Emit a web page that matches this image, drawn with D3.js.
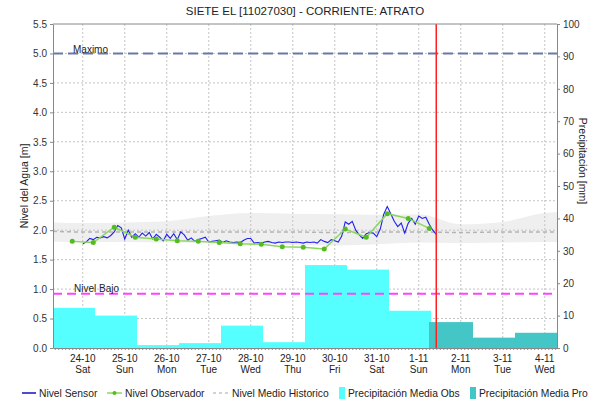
<!DOCTYPE html>
<html>
<head>
<meta charset="utf-8">
<script src="https://cdn.jsdelivr.net/npm/d3@7"></script>
<style>
  body { margin: 0; background: #fff; }
  svg { font-family: "Liberation Sans", Arial, sans-serif; }
  .axis path, .axis line { stroke: #888; }
  .axis text { fill: #333; font-size: 10px; }
</style>
</head>
<body>
<div class="chart-container"></div>
<script>
// ---- data ----
const dayLabels = ["24-10", "25-10", "26-10", "27-10", "28-10", "29-10", "30-10", "31-10", "1-11", "2-11", "3-11", "4-11"];
const weekDays = ["Sat", "Sun", "Mon", "Tue", "Wed", "Thu", "Fri", "Sat", "Sun", "Mon", "Tue", "Wed"];

// daily precipitation [mm], 07:00 -> 07:00
const precipObs = [12.4, 10.0, 0.9, 1.5, 6.9, 1.8, 25.6, 24.2, 11.5];
const precipPro = [8.0, 3.2, 4.7];

// observer readings [m], every 12h starting 23-10 18:00
const observador = [1.81, 1.79, 2.05, 1.88, 1.85, 1.82, 1.81, 1.79, 1.77, 1.76, 1.72, 1.71,
  1.68, 2.02, 1.88, 2.28, 2.20, 2.03];

// sensor readings [m], every 2h starting 24-10 00:00
const sensor = [
  1.77, 1.80, 1.86, 1.84, 1.88, 1.87, 1.89, 1.87, 1.91, 1.97, 2.08, 2.04, 1.85, 2.00, 1.88,
  1.94, 1.88, 1.95, 1.90, 1.96, 1.85, 1.93, 1.88, 1.82, 1.93, 1.86, 1.94, 1.84, 1.97, 1.92,
  1.83, 1.87, 1.81, 1.84, 1.86, 1.88, 1.80, 1.81, 1.82, 1.83, 1.79, 1.82, 1.80, 1.79, 1.80,
  1.79, 1.83, 1.86, 1.86, 1.78, 1.79, 1.78, 1.80, 1.81, 1.79, 1.78, 1.80, 1.79, 1.80, 1.80,
  1.79, 1.80, 1.79, 1.78, 1.80, 1.79, 1.80,
  1.78, 1.84, 1.81, 1.79, 1.84, 1.82, 1.80, 1.90, 2.14, 2.10, 2.15, 2.00, 1.92, 1.86, 1.94,
  1.96, 1.95, 1.89, 2.02, 2.27, 2.40, 2.28, 2.15, 2.06, 2.12, 1.95, 2.12, 2.20, 2.10, 2.24,
  2.20, 2.22, 2.10, 2.00, 1.93
];

// historical band [m]: 23-10 07:00, each midnight 24-10 .. 4-11, 4-11 07:00
const histUpper = [2.13, 2.12, 2.13, 2.15, 2.24, 2.29, 2.28, 2.27, 2.26, 2.27, 2.10, 2.14, 2.29, 2.31];
const histLower = [1.81, 1.80, 1.80, 1.79, 1.78, 1.77, 1.75, 1.74, 1.76, 1.79, 1.78, 1.79, 1.80, 1.80];
const histMean = [1.98, 1.97, 1.97, 1.97, 1.97, 1.97, 1.97, 1.96, 1.97, 1.97, 1.96, 1.97, 1.97, 1.97];

const nivelMaximo = 5.0;
const nivelBajo = 0.92;

// ---- time helpers ----
const HOUR = 3600 * 1000;
const t0 = Date.UTC(2015, 9, 23, 7);       // 23-10 07:00
const tEnd = Date.UTC(2015, 10, 4, 7);     // 4-11 07:00
const tNow = Date.UTC(2015, 10, 1, 10);    // red line
const midnight = (i) => new Date(Date.UTC(2015, 9, 24) + i * 24 * HOUR);

const histTimes = [new Date(t0)].concat(dayLabels.map((d, i) => midnight(i)), [new Date(tEnd)]);

// ---- chart ----
const margin = {top: 24, right: 33, bottom: 55, left: 53},
  W = 590, H = 403,
  width = W - margin.left - margin.right,
  height = H - margin.top - margin.bottom;

const svg = d3.select(".chart-container").append("svg")
    .attr("width", W)
    .attr("height", H)
  .append("g")
    .attr("transform", "translate(" + margin.left + "," + margin.top + ")");

const x = d3.scaleUtc().domain([new Date(t0), new Date(tEnd)]).range([0, width]);
const y = d3.scaleLinear().domain([0, 5.5]).range([height, 0]);
const y2 = d3.scaleLinear().domain([0, 100]).range([height, 0]);

// historical band
const band = histTimes.map((t, i) => ({t: t, lo: histLower[i], hi: histUpper[i], m: histMean[i]}));
svg.append("path")
    .datum(band)
    .attr("fill", "#efefef")
    .attr("d", d3.area().curve(d3.curveMonotoneX)
      .x((d) => x(d.t)).y0((d) => y(d.lo)).y1((d) => y(d.hi)));

// grid
svg.append("g")
    .selectAll("line")
    .data(dayLabels)
  .enter().append("line")
    .attr("x1", (d, i) => x(midnight(i)))
    .attr("x2", (d, i) => x(midnight(i)))
    .attr("y1", 0)
    .attr("y2", height)
    .attr("stroke", "#c4c4c4")
    .attr("stroke-dasharray", "2,2");

svg.append("g")
    .selectAll("line")
    .data(d3.range(0.5, 5.01, 0.5))
  .enter().append("line")
    .attr("x1", 0)
    .attr("x2", width)
    .attr("y1", (d) => y(d))
    .attr("y2", (d) => y(d))
    .attr("stroke", "#c4c4c4")
    .attr("stroke-dasharray", "2,2");

// precipitation bars
svg.append("g")
    .selectAll("rect")
    .data(precipObs)
  .enter().append("rect")
    .attr("x", (d, i) => x(new Date(t0 + i * 24 * HOUR)))
    .attr("width", (d, i) => x(new Date(t0 + (i + 1) * 24 * HOUR)) - x(new Date(t0 + i * 24 * HOUR)))
    .attr("y", (d) => y2(d))
    .attr("height", (d) => height - y2(d))
    .attr("fill", "#55ffff");

const proStart = t0 + precipObs.length * 24 * HOUR;
svg.append("g")
    .selectAll("rect")
    .data(precipPro)
  .enter().append("rect")
    .attr("x", (d, i) => x(new Date(proStart + i * 24 * HOUR)) - (i === 0 ? 2 : 0))
    .attr("width", (d, i) => x(new Date(proStart + (i + 1) * 24 * HOUR)) - x(new Date(proStart + i * 24 * HOUR)) + (i === 0 ? 2 : 0))
    .attr("y", (d) => y2(d))
    .attr("height", (d) => height - y2(d))
    .attr("fill", "#45c6c6");

// historical mean
svg.append("path")
    .datum(band)
    .attr("fill", "none")
    .attr("stroke", "#b4b4b4")
    .attr("stroke-width", 1.5)
    .attr("stroke-dasharray", "4,3")
    .attr("d", d3.line().curve(d3.curveMonotoneX).x((d) => x(d.t)).y((d) => y(d.m)));

// threshold lines
svg.append("line")
    .attr("x1", 0).attr("x2", width)
    .attr("y1", y(nivelMaximo)).attr("y2", y(nivelMaximo))
    .attr("stroke", "#6a78a8")
    .attr("stroke-width", 2)
    .attr("stroke-dasharray", "10,5");
svg.append("text")
    .attr("x", 20).attr("y", y(nivelMaximo))
    .style("font-size", "10px")
    .attr("fill", "#222")
    .text("Maximo");

svg.append("line")
    .attr("x1", 0).attr("x2", width)
    .attr("y1", y(nivelBajo)).attr("y2", y(nivelBajo))
    .attr("stroke", "#ff44ff")
    .attr("stroke-width", 2)
    .attr("stroke-dasharray", "9,5");
svg.append("text")
    .attr("x", 21).attr("y", y(nivelBajo) - 1.5)
    .style("font-size", "10px")
    .attr("fill", "#222")
    .text("Nivel Bajo");

// sensor
const t24 = Date.UTC(2015, 9, 24);
svg.append("path")
    .datum(sensor)
    .attr("fill", "none")
    .attr("stroke", "#2020f0")
    .attr("stroke-width", 1.1)
    .attr("d", d3.line().x((d, i) => x(new Date(t24 + i * 2 * HOUR))).y((d) => y(d)));

// observer
const tObs = Date.UTC(2015, 9, 23, 18);
const obsX = (d, i) => x(new Date(tObs + i * 12 * HOUR));
svg.append("path")
    .datum(observador)
    .attr("fill", "none")
    .attr("stroke", "#8ad85a")
    .attr("stroke-width", 1.5)
    .attr("d", d3.line().x(obsX).y((d) => y(d)));
svg.append("g")
    .selectAll("circle")
    .data(observador)
  .enter().append("circle")
    .attr("cx", obsX)
    .attr("cy", (d) => y(d))
    .attr("r", 2.5)
    .attr("fill", "#55bb22");

// now line
svg.append("line")
    .attr("x1", x(new Date(tNow))).attr("x2", x(new Date(tNow)))
    .attr("y1", 0).attr("y2", height)
    .attr("stroke", "#ff2020")
    .attr("stroke-width", 1.5);

// axes
svg.append("g")
    .attr("class", "axis")
    .call(d3.axisLeft(y).tickValues(d3.range(0, 5.51, 0.5)).tickFormat(d3.format(".1f")).tickSize(3).tickSizeOuter(0));

svg.append("g")
    .attr("class", "axis")
    .attr("transform", "translate(" + width + ",0)")
    .call(d3.axisRight(y2).tickValues(d3.range(0, 101, 10)).tickSize(3).tickSizeOuter(0));

svg.append("line")
    .attr("x1", 0).attr("x2", width).attr("y1", 0).attr("y2", 0)
    .attr("stroke", "#888");

svg.append("g")
    .attr("class", "axis")
    .attr("transform", "translate(0," + height + ")")
    .call(d3.axisBottom(x).ticks(d3.utcHour.every(2)).tickSize(2).tickSizeOuter(0).tickFormat(""));

svg.append("g")
    .selectAll("text")
    .data(dayLabels)
  .enter().append("text")
    .attr("x", (d, i) => x(midnight(i)))
    .attr("y", height + 14)
    .attr("text-anchor", "middle")
    .style("font-size", "10px")
    .attr("fill", "#222")
    .text((d) => d);

svg.append("g")
    .selectAll("text")
    .data(weekDays)
  .enter().append("text")
    .attr("x", (d, i) => x(midnight(i)))
    .attr("y", height + 25)
    .attr("text-anchor", "middle")
    .style("font-size", "10px")
    .attr("fill", "#222")
    .text((d) => d);

// titles
svg.append("text")
    .attr("x", width / 2)
    .attr("y", -9)
    .attr("text-anchor", "middle")
    .style("font-size", "11.5px")
    .attr("fill", "#222")
    .text("SIETE EL [11027030] - CORRIENTE: ATRATO");

svg.append("text")
    .attr("transform", "rotate(-90)")
    .attr("x", -height / 2)
    .attr("y", -25)
    .attr("text-anchor", "middle")
    .style("font-size", "10.5px")
    .attr("fill", "#222")
    .text("Nivel del Agua [m]");

svg.append("text")
    .attr("transform", "translate(" + (width + 22) + "," + (height / 2 - 25) + ") rotate(90)")
    .attr("text-anchor", "middle")
    .style("font-size", "10.5px")
    .attr("fill", "#222")
    .text("Precipitación [mm]");

// legend
const leg = d3.select("svg").append("g").attr("transform", "translate(0,393)");
leg.append("line").attr("x1", 22).attr("x2", 36).attr("stroke", "#1010c0").attr("stroke-width", 1.5);
leg.append("text").attr("x", 39).attr("y", 4).text("Nivel Sensor");
leg.append("line").attr("x1", 107).attr("x2", 122).attr("stroke", "#8ad85a").attr("stroke-width", 1.5);
leg.append("circle").attr("cx", 114.5).attr("r", 2).attr("fill", "#55bb22");
leg.append("text").attr("x", 125).attr("y", 4).text("Nivel Observador");
leg.append("line").attr("x1", 213).attr("x2", 230).attr("stroke", "#c4c4c4").attr("stroke-width", 1.5).attr("stroke-dasharray", "3,3");
leg.append("text").attr("x", 232).attr("y", 4).text("Nivel Medio Historico");
leg.append("rect").attr("x", 339).attr("y", -6).attr("width", 6).attr("height", 12).attr("fill", "#55ffff");
leg.append("text").attr("x", 348).attr("y", 4).text("Precipitación Media Obs");
leg.append("rect").attr("x", 470).attr("y", -6).attr("width", 6).attr("height", 12).attr("fill", "#45c6c6");
leg.append("text").attr("x", 479).attr("y", 4).text("Precipitación Media Pro");
leg.selectAll("text").style("font-size", "10.3px").attr("fill", "#222");
</script>
</body>
</html>
